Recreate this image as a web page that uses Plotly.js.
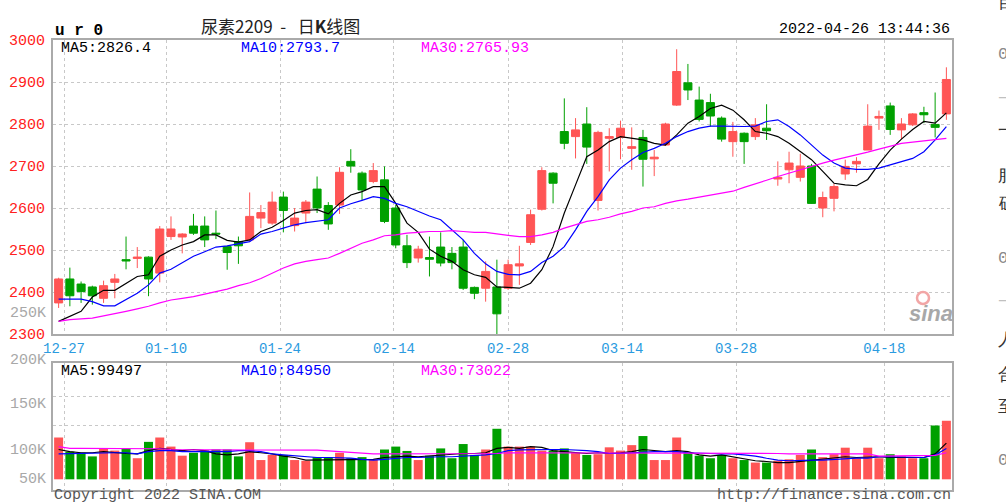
<!DOCTYPE html>
<html><head><meta charset="utf-8">
<script src="https://cdn.plot.ly/plotly-3.0.1.min.js"></script>
<style>html,body{margin:0;padding:0;background:#fff;overflow:hidden}#chart{width:1006px;height:503px}</style>
</head><body><div id="chart"></div>
<script>
// ---- data (80 daily candles, 2021-12-24 .. 2022-04-26) ----
const openP  = [2374,2431,2419,2412,2385,2423,2477,2480,2483,2445, 2532,2531,2557,2557,2540,2508,2520,2524,2576,2564,
                2626,2558,2588,2645,2606,2607,2711,2683,2663,2667, 2600,2510,2481,2482,2507,2492,2507,2411,2409,2412,
                2409,2462,2518,2597,2683,2782,2770,2800,2618,2766, 2768,2742,2768,2717,2750,2845,2898,2857,2851,2814,
                2758,2778,2770,2790,2669,2691,2673,2700,2600,2623, 2681,2705,2738,2814,2843,2786,2798,2827,2799,2824];
const highP  = [2434,2458,2425,2415,2427,2443,2532,2507,2485,2557, 2580,2540,2586,2580,2594,2510,2532,2637,2607,2639,
                2639,2600,2619,2675,2614,2697,2740,2687,2707,2699, 2607,2536,2510,2532,2542,2507,2524,2413,2473,2477,
                2477,2510,2596,2697,2685,2861,2814,2840,2784,2790, 2808,2792,2786,2738,2803,2978,2943,2889,2872,2818,
                2805,2780,2814,2847,2711,2734,2729,2705,2639,2657, 2715,2721,2847,2832,2851,2814,2826,2841,2875,2935];
const lowP   = [2362,2366,2374,2370,2374,2385,2454,2457,2390,2423, 2524,2492,2536,2507,2526,2453,2467,2520,2552,2560,
                2542,2544,2564,2588,2548,2586,2684,2619,2659,2564, 2504,2457,2470,2437,2461,2454,2405,2383,2377,2298,
                2405,2417,2512,2594,2611,2740,2718,2705,2594,2687, 2716,2691,2651,2676,2748,2843,2857,2806,2794,2758,
                2722,2705,2762,2762,2653,2659,2663,2610,2578,2592, 2667,2684,2738,2786,2774,2764,2795,2802,2768,2810];
const closeP = [2431,2391,2401,2391,2415,2431,2474,2483,2431,2550, 2550,2538,2540,2524,2538,2494,2510,2580,2589,2614,
                2594,2576,2614,2600,2562,2685,2700,2643,2689,2568, 2512,2470,2502,2478,2469,2470,2409,2397,2449,2348,
                2465,2467,2584,2689,2659,2754,2786,2745,2780,2770, 2790,2746,2716,2721,2800,2925,2881,2811,2819,2764,
                2782,2758,2798,2784,2673,2707,2700,2611,2625,2651, 2699,2711,2795,2818,2787,2800,2824,2822,2792,2906];
const priceMA5  = [2330,2342,2354,2388,2404,2404,2421,2437,2441,2485, 2500,2512,2520,2536,2536,2523,2519,2524,2544,2554,
                   2570,2588,2594,2596,2586,2611,2631,2639,2651,2651, 2611,2564,2542,2502,2485,2473,2453,2441,2435,2412,
                   2411,2409,2421,2453,2508,2588,2655,2722,2738,2758, 2770,2766,2762,2754,2750,2774,2802,2818,2837,2845,
                   2833,2810,2782,2778,2770,2754,2734,2715,2687,2659, 2655,2653,2668,2705,2738,2764,2787,2806,2802,2826.4];
const priceMA10 = [2383,2383,2383,2377,2367,2367,2381,2397,2417,2445, 2454,2469,2485,2496,2507,2510,2515,2520,2538,2544,
                   2552,2560,2565,2568,2572,2600,2610,2618,2627,2623, 2611,2603,2592,2581,2572,2548,2524,2492,2467,2449,
                   2442,2441,2449,2470,2485,2508,2548,2592,2627,2667, 2695,2715,2732,2742,2754,2770,2782,2790,2795,2795,
                   2794,2794,2795,2806,2810,2794,2774,2750,2726,2707, 2695,2692,2692,2695,2703,2711,2718,2734,2762,2793.7];
const priceMA30 = [2330,2334,2336,2338,2343,2348,2354,2360,2366,2374, 2381,2385,2389,2395,2401,2407,2415,2422,2432,2445,
                   2457,2467,2473,2477,2481,2492,2504,2516,2524,2534, 2536,2540,2542,2544,2544,2546,2544,2542,2542,2538,
                   2535,2532,2532,2536,2542,2552,2560,2568,2572,2578, 2586,2592,2600,2603,2611,2617,2621,2626,2631,2636,
                   2640,2649,2657,2666,2675,2683,2691,2700,2707,2714, 2720,2726,2733,2740,2747,2754,2757,2760,2762,2765.93];
const volume = [115000,76000,73000,63000,85000,79000,85000,58000,103000,115000, 90000,65000,73000,80000,82000,82000,63000,102000,53000,67000,
                67000,53000,51000,61000,61000,73000,58000,61000,55000,82000, 90000,78000,53000,65000,85000,58000,97000,67000,82000,139000,
                90000,90000,90000,79000,79000,85000,73000,67000,69000,88000, 79000,94000,119000,53000,53000,115000,73000,65000,58000,67000,
                58000,53000,46000,46000,51000,55000,67000,82000,61000,69000, 87000,58000,87000,58000,69000,63000,58000,58000,148000,161000];
const volMA5  = [82000,76000,73000,73000,76000,73000,71000,70000,79000,85000, 82000,79000,82000,79000,70000,67000,70000,76000,73000,70000,
                 64000,60000,53000,53000,53000,53000,55000,53000,55000,60000, 62000,64000,62000,64000,67000,70000,71000,71000,73000,85000,
                 88000,85000,90000,88000,79000,76000,73000,71000,73000,71000, 73000,76000,82000,79000,76000,79000,76000,67000,64000,67000,
                 62000,55000,51000,49000,46000,46000,49000,53000,55000,58000, 62000,60000,62000,62000,60000,60000,60000,60000,70000,99497];
const volMA10 = [70000,71000,71000,71000,73000,73000,73000,70000,76000,79000, 79000,76000,76000,76000,76000,76000,79000,79000,76000,70000,
                 67000,64000,62000,60000,60000,60000,58000,55000,53000,55000, 58000,60000,60000,62000,62000,62000,64000,64000,67000,71000,
                 79000,81000,82000,82000,82000,82000,81000,79000,76000,71000, 71000,73000,76000,76000,76000,76000,73000,73000,71000,70000,
                 70000,67000,64000,58000,53000,51000,53000,53000,53000,55000, 58000,58000,58000,62000,62000,62000,62000,60000,67000,84950];
const volMA30 = [90000,85000,85000,85000,85000,85000,85000,85000,85000,84000, 82000,81000,81000,81000,81000,81000,81000,81000,81000,81000,
                 81000,81000,81000,80000,78000,76000,74000,71000,70000,70000, 70000,70000,70000,70000,70000,70000,70000,70000,70000,71000,
                 73000,73000,73000,73000,73000,73000,73000,73000,73000,73000, 73000,73000,73000,73000,73000,73000,73000,71000,71000,71000,
                 71000,71000,71000,71000,71000,70000,70000,70000,70000,70000, 70000,70000,70000,64000,64000,64000,64000,64000,66000,73022];
const dateLabels  = ['12-27','01-10','01-24','02-14','02-28','03-14','03-28','04-18'];
const priceLabels = ['2300','2400','2500','2600','2700','2800','2900','3000'];
const volLabels   = ['250K','200K','150K','100K','50K'];

// ---- drawing ----
const W = 1006, H = 503;
const RED = '#ff5555', GREEN = '#00a000';
const MONO = 'Liberation Mono, DejaVu Sans Mono, monospace';
const idx = closeP.map((_, i) => i);
const px = x => x / W, py = y => 1 - y / H;
const gridPos = [0.48, 9.56, 19.7, 29.84, 40.0, 50.16, 60.28, 73.48];
const volColors = closeP.map((c, i) => c >= openP[i] ? RED : GREEN);

const traces = [
  {type:'candlestick', x: idx, open: openP, high: highP, low: lowP, close: closeP,
   xaxis:'x', yaxis:'y', whiskerwidth: 0, hoverinfo:'skip', showlegend:false,
   increasing:{line:{color:RED, width:1}, fillcolor:RED},
   decreasing:{line:{color:GREEN, width:1}, fillcolor:GREEN}},
  {type:'scatter', mode:'lines', x: idx, y: priceMA5, line:{color:'#000000', width:1.2}, xaxis:'x', yaxis:'y', hoverinfo:'skip', showlegend:false},
  {type:'scatter', mode:'lines', x: idx, y: priceMA10, line:{color:'#0000ff', width:1.2}, xaxis:'x', yaxis:'y', hoverinfo:'skip', showlegend:false},
  {type:'scatter', mode:'lines', x: idx, y: priceMA30, line:{color:'#ff00ff', width:1.2}, xaxis:'x', yaxis:'y', hoverinfo:'skip', showlegend:false},
  {type:'bar', x: idx, y: volume, marker:{color: volColors, line:{width:0}}, width: 0.8, xaxis:'x2', yaxis:'y2', hoverinfo:'skip', showlegend:false},
  {type:'scatter', mode:'lines', x: idx, y: volMA5, line:{color:'#000000', width:1.2}, xaxis:'x2', yaxis:'y2', hoverinfo:'skip', showlegend:false},
  {type:'scatter', mode:'lines', x: idx, y: volMA10, line:{color:'#0000ff', width:1.2}, xaxis:'x2', yaxis:'y2', hoverinfo:'skip', showlegend:false},
  {type:'scatter', mode:'lines', x: idx, y: volMA30, line:{color:'#ff00ff', width:1.2}, xaxis:'x2', yaxis:'y2', hoverinfo:'skip', showlegend:false}
];

function ann(text, x, y, color, size, xanchor, family, extra) {
  return Object.assign({text: text, xref:'paper', yref:'paper', x: px(x), y: py(y),
    xanchor: xanchor || 'left', yanchor:'middle', showarrow:false,
    font:{family: family || MONO, size: size || 15, color: color}}, extra || {});
}

const axisLine = {showline:true, mirror:true, linecolor:'#aaaaaa', linewidth:2, zeroline:false, fixedrange:true};
const xDom = [px(53), px(952)];
const layout = {
  width: W, height: H, margin:{l:0, r:0, t:0, b:0}, paper_bgcolor:'#ffffff', plot_bgcolor:'#ffffff',
  showlegend:false, bargap: 0.2, boxgap: 0.15, boxgroupgap: 0.16,
  xaxis: Object.assign({domain: xDom, anchor:'y', range:[-0.5, 79.5], tickmode:'array', tickvals: gridPos, ticktext: dateLabels,
    tickfont:{family: MONO, size:14, color:'#2b9be0'}, ticks:'', showgrid:true, griddash:'dot', gridcolor:'#c8c8c8', gridwidth:1,
    rangeslider:{visible:false}}, axisLine),
  yaxis: Object.assign({domain:[py(334), py(40)], anchor:'x', range:[2300, 3000], tickmode:'array',
    tickvals: priceLabels.map(Number), ticktext: priceLabels, tickfont:{family: MONO, size:15, color:'#ff2020'},
    ticks:'', ticklabelstandoff: 3, showgrid:true, griddash:'dot', gridcolor:'#c8c8c8', gridwidth:1}, axisLine),
  xaxis2: Object.assign({domain: xDom, anchor:'y2', range:[-0.5, 79.5], tickmode:'array', tickvals: gridPos,
    showticklabels:false, ticks:'', showgrid:true, griddash:'dot', gridcolor:'#c8c8c8', gridwidth:1}, axisLine),
  yaxis2: Object.assign({domain:[py(490), py(363)], anchor:'x2', range:[-29400, 319900], tickmode:'array',
    tickvals:[147000, 229000], showticklabels:false, ticks:'', showgrid:true, griddash:'dot', gridcolor:'#c8c8c8', gridwidth:1}, axisLine),
  annotations: [
    ann('<b>u r 0</b>', 53, 31, '#000000', 16, 'left', 'Liberation Mono, monospace'),
    ann('尿素2209&nbsp;&nbsp;-&nbsp;&nbsp;&nbsp;日<b>K</b>线图', 280, 26, '#222222', 17, 'center', 'Noto Sans CJK SC, sans-serif'),
    ann('2022-04-26 13:44:36', 952, 30, '#000000', 15, 'right'),
    ann('MA5:2826.4', 59, 48, '#000000', 15),
    ann('MA10:2793.7', 239, 48, '#0000ff', 15),
    ann('MA30:2765.93', 419, 48, '#ff00ff', 15),
    ann('MA5:99497', 59, 371, '#000000', 15),
    ann('MA10:84950', 239, 371, '#0000ff', 15),
    ann('MA30:73022', 419, 371, '#ff00ff', 15),
    ann(volLabels[0], 48, 313, '#a8a8a8', 15, 'right'),
    ann(volLabels[1], 48, 360, '#a8a8a8', 15, 'right'),
    ann(volLabels[2], 48, 404, '#a8a8a8', 15, 'right'),
    ann(volLabels[3], 48, 450, '#a8a8a8', 15, 'right'),
    ann(volLabels[4], 48, 479, '#a8a8a8', 15, 'right'),
    ann('Copyright 2022 SINA.COM', 52, 495, '#555555', 15),
    ann('http://finance.sina.com.cn', 953, 495, '#555555', 15, 'right'),
    ann('<b><i>sina</i></b>', 931, 313, '#a8a8a8', 22, 'center', 'Liberation Sans, Arial, sans-serif'),
    // clipped text of the neighbouring page at the right edge
    ann('目', 996, 4, '#333333', 17), ann('0', 996, 55, '#8a8a8a', 17), ann('—', 996, 97, '#c0c0c0', 17),
    ann('一', 996, 131, '#333333', 17), ann('服', 996, 176, '#333333', 17), ann('砭', 996, 204, '#333333', 17),
    ann('0', 996, 258, '#8a8a8a', 17), ann('—', 996, 300, '#c0c0c0', 17), ann('人', 996, 340, '#333333', 17),
    ann('合', 996, 375, '#333333', 17), ann('至', 996, 407, '#333333', 17), ann('0', 996, 460, '#8a8a8a', 17)
  ],
  shapes: [
    {type:'circle', xref:'paper', yref:'paper', x0: px(917), x1: px(929), y0: py(304), y1: py(292),
     line:{color:'#f2a6a6', width:2.5}, fillcolor:'rgba(0,0,0,0)'}
  ]
};

Plotly.newPlot('chart', traces, layout, {staticPlot:true, displayModeBar:false});
</script>
</body></html>
